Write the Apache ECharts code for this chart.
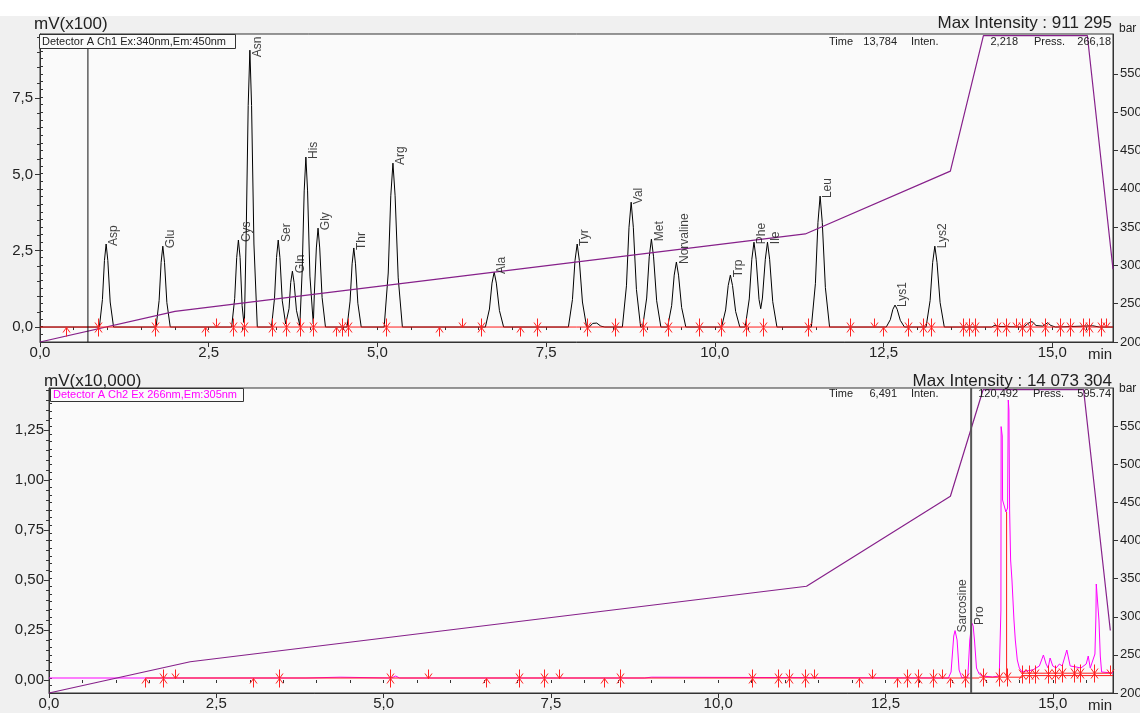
<!DOCTYPE html>
<html>
<head>
<meta charset="utf-8">
<script src="https://cdn.jsdelivr.net/npm/echarts@6/dist/echarts.min.js"></script>
<style>
html, body { margin: 0; padding: 0; background: #f0f0f0; }
#chart { width: 1140px; height: 713px; }
</style>
</head>
<body>
<div id="chart"></div>
<script>
// ---- data ----
var xLabels = [0, 2.5, 5, 7.5, 10, 12.5, 15];
var ch1Labels = [0, 2.5, 5, 7.5];
var ch2Labels = [0, 0.25, 0.5, 0.75, 1, 1.25];
var pressLabels = [200, 250, 300, 350, 400, 450, 500, 550];

// Ch1 (mV x100) trace
var ch1Trace = [
  [0,0],[0.88,0],[0.925,0.90],[0.955,2.18],[0.98,2.72],[1.005,2.18],[1.04,0.82],[1.09,0],
  [1.72,0],[1.765,0.87],[1.795,2.12],[1.82,2.65],[1.845,2.12],[1.88,0.80],[1.93,0],
  [2.84,0],[2.885,0.94],[2.915,2.28],[2.94,2.85],[2.965,2.28],[2.995,0.7],[3.02,0.15],
  [3.03,0.25],[3.055,2.99],[3.085,7.26],[3.11,9.07],[3.135,7.26],[3.17,2.72],[3.22,0],
  [3.43,0],[3.475,0.94],[3.505,2.28],[3.53,2.85],[3.555,2.28],[3.59,0.86],[3.64,0.1],
  [3.65,0.08],[3.69,0.6],[3.715,1.46],[3.74,1.83],[3.765,1.46],[3.8,0.55],[3.85,0.05],
  [3.86,0.03],[3.885,1.84],[3.915,4.46],[3.94,5.57],[3.965,4.46],[4.0,1.67],[4.05,0.1],
  [4.065,1.07],[4.095,2.59],[4.12,3.24],[4.145,2.59],[4.18,0.97],[4.23,0],
  [4.55,0],[4.595,0.85],[4.625,2.07],[4.65,2.59],[4.675,2.07],[4.71,0.78],[4.76,0],
  [5.10,0],[5.16,1.77],[5.198,4.30],[5.23,5.37],[5.262,4.30],[5.308,1.61],[5.37,0],
  [6.60,0],[6.66,0.59],[6.698,1.44],[6.73,1.80],[6.762,1.44],[6.808,0.54],[6.87,0],
  [7.83,0],[7.89,0.90],[7.928,2.18],[7.96,2.72],[7.992,2.18],[8.038,0.82],[8.10,0],
  [8.14,0],[8.19,0.12],[8.25,0.13],[8.31,0.03],[8.37,0],
  [8.63,0],[8.69,1.35],[8.728,3.27],[8.76,4.09],[8.792,3.27],[8.838,1.23],[8.90,0],
  [8.93,0],[8.99,0.95],[9.028,2.30],[9.06,2.88],[9.092,2.30],[9.138,0.86],[9.20,0],
  [9.30,0],[9.36,0.70],[9.398,1.70],[9.43,2.13],[9.462,1.70],[9.508,0.64],[9.57,0],
  [10.10,0],[10.16,0.56],[10.198,1.36],[10.23,1.70],[10.262,1.36],[10.308,0.51],[10.37,0],
  [10.45,0],[10.51,0.92],[10.548,2.22],[10.58,2.78],[10.612,2.22],[10.655,0.9],[10.68,0.6],
  [10.705,0.95],[10.748,2.22],[10.78,2.78],[10.812,2.22],[10.858,0.83],[10.92,0],
  [11.43,0],[11.49,1.42],[11.528,3.43],[11.56,4.29],[11.592,3.43],[11.638,1.29],[11.70,0],
  [12.54,0],[12.60,0.24],[12.638,0.58],[12.67,0.72],[12.702,0.58],[12.748,0.22],[12.81,0],
  [13.13,0],[13.19,0.87],[13.228,2.12],[13.26,2.65],[13.292,2.12],[13.338,0.80],[13.40,0],
  [14.10,0],[14.15,0.06],[14.20,0.02],[14.58,0],[14.64,0.12],[14.70,0.18],[14.76,0.05],
  [14.86,0.03],[14.93,0.14],[14.98,0.05],[15.05,0],[15.60,0.04],[15.70,0],[15.9,0]
];

var peakNames = ['Asp','Glu','Cys','Asn','Ser','Gln','His','Gly','Thr','Arg','Ala','Tyr','Val','Met','Norvaline','Trp','Phe','Ile','Leu','Lys1','Lys2'];
var peakTimes = [0.98,1.82,2.94,3.11,3.53,3.74,3.94,4.12,4.65,5.23,6.73,7.96,8.76,9.06,9.43,10.23,10.58,10.78,11.56,12.67,13.26];
var peakLabelLevels = [2.72,2.65,2.85,8.9,2.85,1.83,5.57,3.24,2.59,5.37,1.80,2.72,4.09,2.88,2.13,1.70,2.78,2.78,4.29,0.72,2.65];

// Ch2 (mV x10,000) trace
var ch2Trace = [
  [0,0.01],[3.84,0.01],[3.85,0.014],[4.35,0.014],[4.36,0.01],[5.12,0.01],[5.18,0.02],[5.24,0.01],
  [8.9,0.01],[8.91,0.014],[9.0,0.014],[9.01,0.01],
  [13.44,0.01],[13.48,0.04],[13.52,0.22],[13.54,0.247],[13.57,0.2],[13.6,0.05],[13.64,0.012],
  [13.73,0.012],[13.76,0.2],[13.79,0.285],[13.81,0.27],[13.83,0.2],[13.86,0.06],[13.9,0.03],
  [13.95,0.02],[14.1,0.015],[14.2,0.02],[14.225,0.35],[14.228,1.267],[14.245,1.22],[14.25,0.9],
  [14.30,0.84],[14.325,0.86],[14.335,1.40],[14.345,1.35],[14.355,0.85],[14.37,0.6],[14.39,0.5],
  [14.42,0.3],[14.44,0.2],[14.47,0.1],[14.5,0.06],[14.54,0.04],
  [14.6,0.045],[14.7,0.05],[14.8,0.07],[14.86,0.125],[14.9,0.08],[14.93,0.06],[14.96,0.11],
  [15.0,0.07],[15.05,0.06],[15.1,0.08],[15.14,0.07],[15.21,0.15],[15.26,0.07],[15.35,0.065],
  [15.42,0.06],[15.5,0.08],[15.53,0.12],[15.56,0.06],[15.6,0.1],[15.63,0.13],[15.645,0.32],
  [15.65,0.48],[15.665,0.47],[15.69,0.3],[15.71,0.12],[15.73,0.04],[15.9,0.035]
];
var ch2Names = ['Sarcosine', 'Pro'];
var ch2Times = [13.54, 13.79];
var ch2LabelLevels = [0.247, 0.285];

// pump pressure (bar)
var pressTimeTop = [0, 2.0, 11.34, 13.49, 13.98, 15.52, 15.9];
var pressBarTop = [200, 240, 341, 423, 600, 600, 295];
var pressTimeBot = [0, 2.11, 11.32, 13.47, 13.96, 15.46, 15.86];
var pressBarBot = [200, 241, 340, 458, 598, 598, 282];

// integration marks: 1 = start (below), 2 = end (above), 3 = both
var topMarkT = [0.39,0.86,1.71,2.44,2.61,2.86,3.03,3.44,3.65,3.86,4.05,4.38,4.48,4.56,5.12,5.91,6.25,6.53,7.11,7.36,
  8.11,8.52,8.93,9.31,9.76,10.09,10.46,10.71,11.38,12.01,12.36,12.49,12.86,13.09,13.20,13.68,13.76,13.85,
  14.18,14.31,14.47,14.55,14.67,14.89,15.12,15.26,15.45,15.54,15.72,15.80];
var topMarkK = [1,3,3,1,2,3,3,3,3,3,3,1,3,3,3,1,2,3,1,3,
  3,3,3,3,3,3,3,3,3,3,2,1,3,3,3,3,3,3,
  3,3,2,3,3,3,3,3,3,3,3,2];
var botMarkT = [1.44,1.70,1.89,3.05,3.43,5.09,5.66,6.53,7.02,7.40,7.62,8.29,8.53,10.51,10.90,11.06,11.30,11.43,
  12.10,12.30,12.67,12.82,12.99,13.21,13.34,13.47,13.69,13.96,14.19,14.31,
  14.54,14.64,14.74,14.93,15.04,15.14,15.31,15.41,15.61,15.86];
var botMarkK = [1,3,2,1,3,3,2,1,3,3,2,1,3,3,3,3,3,2,
  1,2,1,3,3,3,2,1,3,3,3,3,
  3,3,3,3,3,3,3,3,3,2];
var botMarkV = [0.01,0.01,0.01,0.01,0.01,0.01,0.01,0.01,0.01,0.01,0.01,0.01,0.01,0.01,0.01,0.01,0.01,0.01,
  0.01,0.01,0.01,0.01,0.01,0.01,0.01,0.01,0.01,0.014,0.014,0.014,
  0.03,0.03,0.03,0.03,0.03,0.035,0.035,0.035,0.035,0.03];

var redSegTop = [[[0, 0], [15.9, 0]]];
var redSegBot = [
  [[1.44, 0.01], [13.9, 0.01]],
  [[13.9, 0.014], [14.54, 0.014]],
  [[14.54, 0.022], [15.9, 0.022]],
  [[14.54, 0.034], [15.86, 0.034]],
  [[14.31, 0.014], [14.31, 0.84]]
];
var cursorTop = 0.71;
var cursorBot = 13.78;

// ---- chart ----
var FONT = 'Liberation Sans, Arial, sans-serif';
var chart = echarts.init(document.getElementById('chart'));

function comma(d) {
  return function (v) { return v.toFixed(d).replace('.', ','); };
}
function steps(a, b, s) {
  var out = [];
  for (var v = a; v <= b + 1e-9; v += s) out.push(Math.round(v * 1000) / 1000);
  return out;
}

function xAxisMain(grid) {
  return {
    type: 'value', gridIndex: grid, min: 0, max: 15.9, position: 'bottom',
    axisLine: { show: true, onZero: false, lineStyle: { color: '#333' } },
    axisTick: { show: true, length: 5, customValues: xLabels, lineStyle: { color: '#333' } },
    axisLabel: { customValues: xLabels, formatter: comma(1), fontSize: 15, color: '#222', fontFamily: FONT, margin: 3 },
    splitLine: { show: false }
  };
}
function xAxisMinor(grid) {
  return {
    type: 'value', gridIndex: grid, min: 0, max: 15.9, position: 'bottom',
    axisLine: { show: false },
    axisTick: { show: true, length: 3, customValues: steps(0, 15.5, 0.5), lineStyle: { color: '#333' } },
    axisLabel: { show: false }, splitLine: { show: false }
  };
}
function yAxisMain(grid, side, min, max, labels, fmt, size, margin) {
  return {
    type: 'value', gridIndex: grid, min: min, max: max, position: side,
    axisLine: { show: true, onZero: false, lineStyle: { color: '#333' } },
    axisTick: { show: true, length: 5, customValues: labels, lineStyle: { color: '#333' } },
    axisLabel: { customValues: labels, formatter: fmt, fontSize: size, color: '#222', fontFamily: FONT, margin: margin },
    splitLine: { show: false }
  };
}
function yAxisMinor(grid, side, min, max, ticks) {
  return {
    type: 'value', gridIndex: grid, min: min, max: max, position: side,
    axisLine: { show: false },
    axisTick: { show: true, length: 3, customValues: ticks, lineStyle: { color: '#333' } },
    axisLabel: { show: false }, splitLine: { show: false }
  };
}

function drawMarker(params, api) {
  var p = api.coord([api.value(0), api.value(1)]);
  var k = api.value(2);
  var x = Math.round(p[0]) + 0.5, y = Math.round(p[1]) + 0.5;
  var kids = [];
  function st() { return { stroke: '#ff2222', lineWidth: 1, fill: null }; }
  if (k === 1 || k === 3) {
    kids.push({ type: 'polyline', shape: { points: [[x, y], [x, y + 9]] }, style: st() });
    kids.push({ type: 'polyline', shape: { points: [[x - 3.5, y + 5], [x, y], [x + 3.5, y + 5]] }, style: st() });
  }
  if (k === 2 || k === 3) {
    kids.push({ type: 'polyline', shape: { points: [[x, y], [x, y - 9]] }, style: st() });
    kids.push({ type: 'polyline', shape: { points: [[x - 3.5, y - 5], [x, y], [x + 3.5, y - 5]] }, style: st() });
  }
  return { type: 'group', children: kids };
}

function lineSeries(data, xi, yi, color, width, z) {
  return {
    type: 'line', xAxisIndex: xi, yAxisIndex: yi, data: data, symbol: 'none',
    lineStyle: { color: color, width: width }, z: z, silent: true, animation: false
  };
}
function labelSeries(names, times, levels, xi, yi) {
  return {
    type: 'scatter', xAxisIndex: xi, yAxisIndex: yi, symbolSize: 1, z: 10,
    itemStyle: { color: 'transparent' },
    data: times.map(function (t, i) { return { value: [t, levels[i]], name: names[i] }; }),
    label: {
      // offset is applied in the rotated frame: [-2, 8] = 8px right, 2px down on screen
      show: true, position: 'inside', formatter: '{b}', rotate: 90, align: 'left', verticalAlign: 'middle',
      offset: [-2, 8], fontSize: 12, color: '#111', fontFamily: FONT
    }
  };
}
function pairs(ts, vs) { return ts.map(function (t, i) { return [t, vs[i]]; }); }

var series = [];
// top panel
series.push(lineSeries(ch1Trace, 0, 0, '#000', 1, 3));
series.push(lineSeries(pairs(pressTimeTop, pressBarTop), 0, 2, '#86208a', 1.2, 4));
redSegTop.forEach(function (s) { series.push(lineSeries(s, 0, 0, '#ff1a1a', 1, 5)); });
series.push({
  type: 'custom', xAxisIndex: 0, yAxisIndex: 0, renderItem: drawMarker, z: 6, silent: true,
  data: topMarkT.map(function (t, i) { return [t, 0, topMarkK[i]]; })
});
series.push(lineSeries([[cursorTop, -0.49], [cursorTop, 9.6]], 0, 0, '#111', 1, 7));
series.push(labelSeries(peakNames, peakTimes, peakLabelLevels, 0, 0));
// bottom panel
series.push(lineSeries(ch2Trace, 2, 4, '#ff00ff', 1, 3));
series.push(lineSeries(pairs(pressTimeBot, pressBarBot), 2, 6, '#86208a', 1.2, 4));
redSegBot.forEach(function (s) { series.push(lineSeries(s, 2, 4, '#ff1a1a', 1, 5)); });
series.push({
  type: 'custom', xAxisIndex: 2, yAxisIndex: 4, renderItem: drawMarker, z: 6, silent: true,
  data: botMarkT.map(function (t, i) { return [t, botMarkV[i], botMarkK[i]]; })
});
series.push(lineSeries([[cursorBot, -0.065], [cursorBot, 1.46]], 2, 4, '#555', 2, 7));
series.push(labelSeries(ch2Names, ch2Times, ch2LabelLevels, 2, 4));

function txt(x, y, s, size, opts) {
  opts = opts || {};
  return {
    type: 'text', x: x, y: y, z: 100,
    style: {
      text: s, fontSize: size, fontFamily: FONT, fill: opts.fill || '#222',
      align: opts.align || 'left', verticalAlign: 'middle'
    }
  };
}

var option = {
  animation: false,
  backgroundColor: '#f0f0f0',
  grid: [
    { left: 40, top: 34, width: 1073, height: 308, show: true, backgroundColor: '#fafafa', borderColor: '#333', borderWidth: 1, outerBoundsMode: 'none' },
    { left: 49, top: 388, width: 1064, height: 305, show: true, backgroundColor: '#fafafa', borderColor: '#333', borderWidth: 1, outerBoundsMode: 'none' }
  ],
  xAxis: [xAxisMain(0), xAxisMinor(0), xAxisMain(1), xAxisMinor(1)],
  yAxis: [
    yAxisMain(0, 'left', -0.49, 9.6, ch1Labels, comma(1), 15, 7),
    yAxisMinor(0, 'left', -0.49, 9.6, steps(0, 9.5, 0.5)),
    yAxisMain(0, 'right', 200, 602, pressLabels, function (v) { return String(v); }, 13, 7),
    yAxisMinor(0, 'right', 200, 602, steps(200, 600, 10)),
    yAxisMain(1, 'left', -0.065, 1.46, ch2Labels, comma(2), 15, 5),
    yAxisMinor(1, 'left', -0.065, 1.46, steps(0, 1.45, 0.05)),
    yAxisMain(1, 'right', 200, 600, pressLabels, function (v) { return String(v); }, 13, 7),
    yAxisMinor(1, 'right', 200, 600, steps(200, 600, 10))
  ],
  graphic: [
    { type: 'rect', shape: { x: 0, y: 0, width: 1140, height: 16 }, style: { fill: '#ffffff' }, z: 1 },
    txt(34, 24, 'mV(x100)', 17),
    txt(1112, 23, 'Max Intensity : 911 295', 17, { align: 'right' }),
    txt(1119, 29, 'bar', 12),
    { type: 'rect', shape: { x: 39.5, y: 34.5, width: 196, height: 14 }, style: { fill: '#fafafa', stroke: '#333', lineWidth: 1 }, z: 99 },
    txt(42, 42, 'Detector A Ch1 Ex:340nm,Em:450nm', 11),
    txt(829, 42, 'Time', 11), txt(897, 42, '13,784', 11, { align: 'right' }),
    txt(911, 42, 'Inten.', 11), txt(1018, 42, '2,218', 11, { align: 'right' }),
    txt(1034, 42, 'Press.', 11), txt(1111, 42, '266,18', 11, { align: 'right' }),
    txt(1088, 355, 'min', 15),

    txt(44, 381, 'mV(x10,000)', 17),
    txt(1112, 381, 'Max Intensity : 14 073 304', 17, { align: 'right' }),
    txt(1119, 389, 'bar', 12),
    { type: 'rect', shape: { x: 50.5, y: 388.5, width: 193, height: 13 }, style: { fill: '#fafafa', stroke: '#333', lineWidth: 1 }, z: 99 },
    txt(53, 395, 'Detector A Ch2 Ex 266nm,Em:305nm', 11, { fill: '#ff00ff' }),
    txt(829, 394, 'Time', 11), txt(897, 394, '6,491', 11, { align: 'right' }),
    txt(911, 394, 'Inten.', 11), txt(1018, 394, '120,492', 11, { align: 'right' }),
    txt(1033, 394, 'Press.', 11), txt(1111, 394, '595.74', 11, { align: 'right' }),
    txt(1088, 706, 'min', 15)
  ],
  series: series
};
chart.setOption(option);
window.onresize = chart.resize;
</script>
</body>
</html>
